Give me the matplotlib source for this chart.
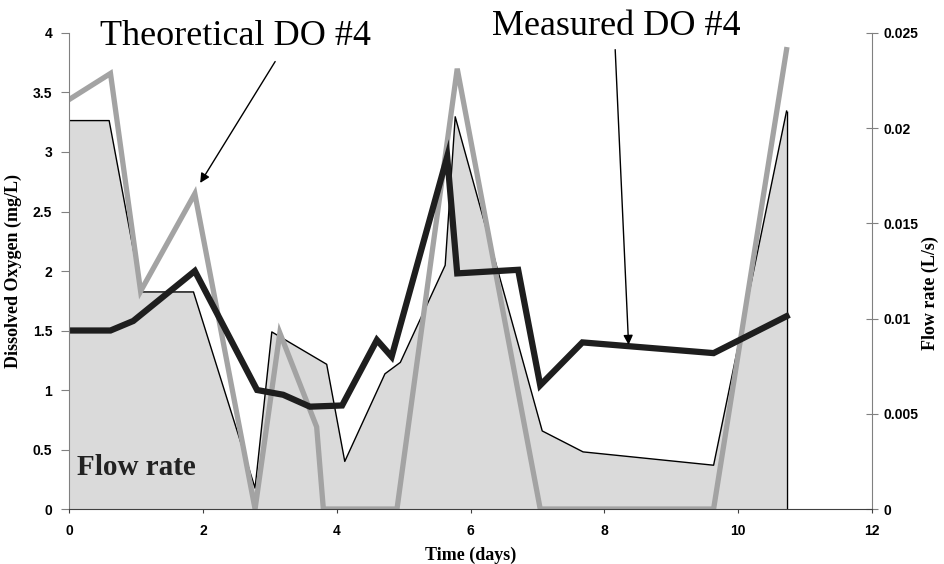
import matplotlib.pyplot as plt

# === Data ===
# Flow rate (L/s), shaded area on the right axis
flow_time = [0, 0.6, 1.08, 1.86, 2.78, 3.03, 3.85, 4.12, 4.72, 4.95,
             5.62, 5.77, 7.07, 7.68, 9.63, 10.72]
flow_rate = [0.0204, 0.0204, 0.0114, 0.0114, 0.0011, 0.0093, 0.0076, 0.0025,
             0.0071, 0.0077, 0.0128, 0.0206, 0.0041, 0.0030, 0.0023, 0.0209]

# Theoretical DO #4 (mg/L), grey line
theo_time = [0, 0.62, 1.07, 1.88, 2.78, 3.15, 3.7, 3.8, 4.9, 5.8, 7.04, 9.63, 10.72]
theo_do = [3.44, 3.66, 1.83, 2.65, 0, 1.48, 0.69, 0, 0, 3.70, 0, 0, 3.86]

# Measured DO #4 (mg/L), black line
meas_time = [0, 0.62, 0.96, 1.88, 2.81, 3.2, 3.6, 4.08, 4.6, 4.82, 5.65,
             5.8, 6.71, 7.04, 7.67, 9.63, 10.72]
meas_do = [1.5, 1.5, 1.58, 2.0, 1.0, 0.96, 0.86, 0.87, 1.42, 1.28, 2.96,
           1.98, 2.01, 1.04, 1.4, 1.31, 1.62]

x_ticks = [0, 2, 4, 6, 8, 10, 12]
y_ticks = [0, 0.5, 1, 1.5, 2, 2.5, 3, 3.5, 4]
y2_ticks = [0, 0.005, 0.01, 0.015, 0.02, 0.025]

serif = 'Liberation Serif'
sans = 'Liberation Sans'

# === Plotting ===
fig = plt.figure(figsize=(9.45, 5.64), dpi=100)
ax = fig.add_axes([0.073, 0.0975, 0.850, 0.844])
ax2 = ax.twinx()
ax.set_zorder(ax2.get_zorder() + 1)
ax.patch.set_visible(False)

# flow rate area
ax2.fill_between(flow_time, 0, flow_rate, facecolor='#dadada', edgecolor='none')
ax2.plot(flow_time, flow_rate, color='black', lw=1)
ax2.vlines(flow_time[-1], 0, flow_rate[-1], color='black', lw=1)

# DO lines
ax.plot(theo_time, theo_do, color='#a3a3a3', lw=3.8, solid_joinstyle='miter')
ax.plot(meas_time, meas_do, color='#1e1e1e', lw=4.5, solid_joinstyle='miter')

ax.set_xlim(0, 12)
ax.set_ylim(0, 4)
ax2.set_ylim(0, 0.025)
ax.set_xticks(x_ticks)
ax.set_yticks(y_ticks)
ax2.set_yticks(y2_ticks)
ax.set_xticklabels([str(t) for t in x_ticks])
ax.set_yticklabels(['0', '0.5', '1', '1.5', '2', '2.5', '3', '3.5', '4'])
ax2.set_yticklabels(['0', '0.005', '0.01', '0.015', '0.02', '0.025'])

for a in (ax, ax2):
    a.spines['top'].set_visible(False)
    for lab in a.get_xticklabels() + a.get_yticklabels():
        lab.set_fontfamily(sans)
        lab.set_fontweight('bold')
        lab.set_fontsize(10)
ax.spines['left'].set_color('#808080')
ax.spines['bottom'].set_color('#404040')
ax.spines['right'].set_visible(False)
ax2.spines['left'].set_visible(False)
ax2.spines['bottom'].set_visible(False)
ax2.spines['right'].set_color('#808080')
ax.tick_params(axis='y', direction='out', length=6, color='#808080', pad=6)
ax.tick_params(axis='x', direction='out', length=3, color='#404040', pad=8)
ax2.tick_params(axis='y', direction='inout', length=8, color='#808080', pad=4)

ax.set_xlabel('Time (days)', family=serif, fontweight='bold', fontsize=13, labelpad=6)
ax.set_ylabel('Dissolved Oxygen (mg/L)', family=serif, fontweight='bold', fontsize=13, labelpad=8)
fig.text(0.984, 0.48, 'Flow rate (L/s)', family=serif, fontweight='bold', fontsize=13,
         rotation=90, ha='center', va='center')

# annotations
fig.text(0.249, 0.935, 'Theoretical DO #4', family=serif, fontsize=26,
         ha='center', va='center')
fig.text(0.652, 0.953, 'Measured DO #4', family=serif, fontsize=26,
         ha='center', va='center')
arrow = dict(arrowstyle='-|>', color='black', lw=1, mutation_scale=14,
             shrinkA=0, shrinkB=0)
ax.annotate('', xy=(1.96, 2.74), xytext=(3.08, 3.76), arrowprops=arrow)
ax.annotate('', xy=(8.36, 1.38), xytext=(8.16, 3.86), arrowprops=arrow)
ax.text(0.12, 0.35, 'Flow rate', family=serif, fontweight='bold', fontsize=21,
        ha='left', va='center', color='#222222')

plt.savefig('out.png', dpi=100)
